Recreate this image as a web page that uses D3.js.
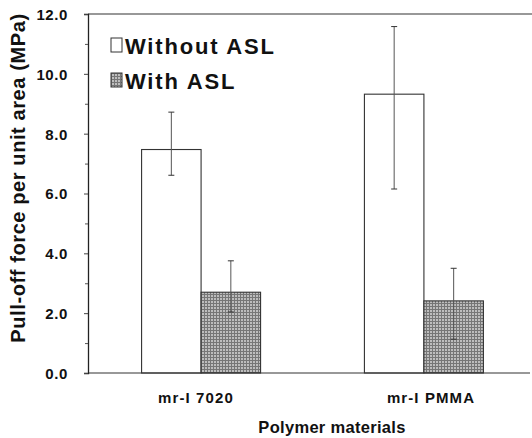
<!DOCTYPE html>
<html><head><meta charset="utf-8">
<script src="https://cdn.jsdelivr.net/npm/d3@7"></script>
<style>body{margin:0;background:#fff}svg{display:block}text{font-family:Arial,"Liberation Sans",sans-serif;font-weight:bold;fill:#111}</style>
</head><body><svg id="c" width="532" height="438"></svg>
<script>
const categories = ["mr-I 7020", "mr-I PMMA"];
const seriesNames = ["Without ASL", "With ASL"];
const withoutASL = [7.47, 9.32];
const withoutLow = [6.61, 6.15];
const withoutHigh = [8.72, 11.58];
const withASL = [2.70, 2.41];
const withLow = [2.04, 1.13];
const withHigh = [3.75, 3.50];
const yTicks = [0, 2, 4, 6, 8, 10, 12];
const yMinorTicks = [1, 3, 5, 7, 9, 11];

const svg = d3.select("#c");
const L = 88, R = 532, T = 14, B = 373;
const defs = svg.append("defs");
const pat = defs.append("pattern").attr("id","hatch").attr("patternUnits","userSpaceOnUse").attr("width",3).attr("height",3);
pat.append("rect").attr("width",3).attr("height",3).attr("fill","#bdbdbd");
pat.append("rect").attr("width",3).attr("height",1).attr("fill","#767676");
pat.append("rect").attr("width",1).attr("height",3).attr("fill","#767676");

const y = d3.scaleLinear().domain([0,12]).range([B,T]);
const x0 = d3.scaleBand().domain(categories).range([89, 536]).paddingInner(0.466).paddingOuter(0.236);
const x1 = d3.scaleBand().domain(seriesNames).range([0, x0.bandwidth()]);

const data = [];
categories.forEach((c,i)=>{
  data.push({cat:c, s:seriesNames[0], v:withoutASL[i], lo:withoutLow[i], hi:withoutHigh[i]});
  data.push({cat:c, s:seriesNames[1], v:withASL[i], lo:withLow[i], hi:withHigh[i]});
});
const fill = s => s===seriesNames[0] ? "#fff" : "url(#hatch)";

svg.selectAll("rect.bar").data(data).join("rect").attr("class","bar")
  .attr("x", d=>x0(d.cat)+x1(d.s)).attr("width", x1.bandwidth())
  .attr("y", d=>y(d.v)).attr("height", d=>y(0)-y(d.v))
  .attr("fill", d=>fill(d.s)).attr("stroke","#333").attr("stroke-width",1.1);

const eb = svg.selectAll("g.eb").data(data).join("g").attr("class","eb")
  .attr("transform", d=>`translate(${x0(d.cat)+x1(d.s)+x1.bandwidth()/2},0)`);
eb.append("line").attr("y1",d=>y(d.lo)).attr("y2",d=>y(d.hi)).attr("stroke","#555").attr("stroke-width",1);
eb.append("line").attr("x1",-3).attr("x2",3).attr("y1",d=>y(d.hi)).attr("y2",d=>y(d.hi)).attr("stroke","#333").attr("stroke-width",1);
eb.append("line").attr("x1",-3).attr("x2",3).attr("y1",d=>y(d.lo)).attr("y2",d=>y(d.lo)).attr("stroke","#333").attr("stroke-width",1);

svg.append("line").attr("x1",L).attr("x2",R).attr("y1",T).attr("y2",T).attr("stroke","#333").attr("stroke-width",1.2);
svg.append("line").attr("x1",L).attr("x2",530).attr("y1",B).attr("y2",B).attr("stroke","#333").attr("stroke-width",1.2);

const yAxis = svg.append("g").attr("transform",`translate(${L},0)`)
  .call(d3.axisLeft(y).tickValues(yTicks).tickFormat(d3.format(".1f")).tickSize(4).tickPadding(16));
yAxis.select(".domain").attr("stroke","#222").attr("stroke-width",1.3);
yAxis.selectAll(".tick line").attr("stroke","#444");
yAxis.selectAll("text").style("font-size","15px").style("letter-spacing","0.6px").style("font-family","Arial, 'Liberation Sans', sans-serif").style("font-weight","bold").attr("fill","#111").attr("dy","0.36em");
svg.append("g").attr("transform",`translate(${L},0)`)
  .call(d3.axisLeft(y).tickValues(yMinorTicks).tickFormat("").tickSize(3))
  .call(g=>g.select(".domain").remove())
  .selectAll("line").attr("stroke","#555");

const xlPos = [196, 431];
svg.selectAll("text.xl").data(categories).join("text").attr("class","xl")
  .attr("x", (d,i)=>xlPos[i])
  .attr("y",403).attr("text-anchor","middle")
  .style("font-size","15px").style("letter-spacing","1.1px").text(d=>d);

svg.append("text").attr("x",332).attr("y",433).attr("text-anchor","middle").style("font-size","16.5px").style("letter-spacing","0.3px").text("Polymer materials");
svg.append("text").attr("transform","translate(25,178) rotate(-90)").attr("text-anchor","middle").style("font-size","20px").style("letter-spacing","0.6px").text("Pull-off force per unit area (MPa)");

const lg = svg.selectAll("g.lg").data(seriesNames).join("g").attr("class","lg")
  .attr("transform",(d,i)=>`translate(111,${38+i*35})`);
lg.append("rect").attr("width",11).attr("height",14).attr("fill",d=>fill(d)).attr("stroke","#333").attr("stroke-width",1);
lg.append("text").attr("x",14).attr("y",15.5).style("font-size","22px").style("letter-spacing","1.8px").text(d=>d);
</script></body></html>
